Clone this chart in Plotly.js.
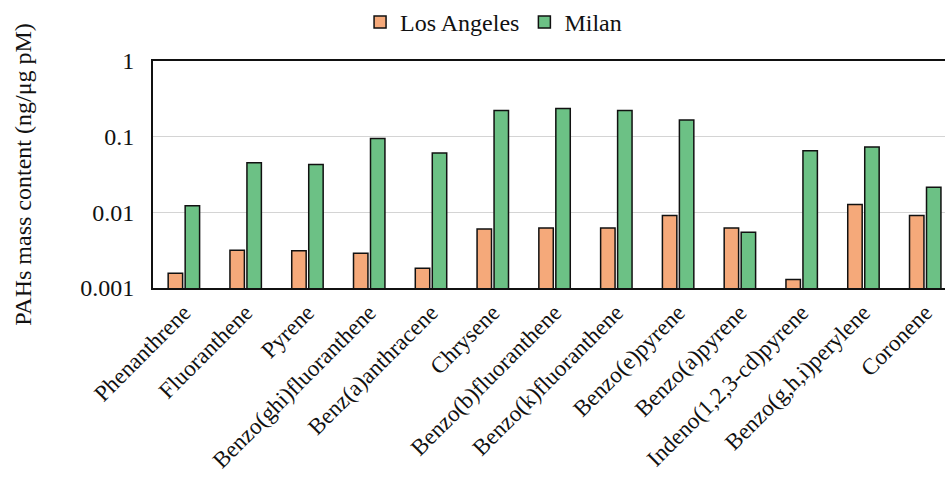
<!DOCTYPE html>
<html>
<head>
<meta charset="utf-8">
<script src="https://cdn.plot.ly/plotly-3.0.1.min.js"></script>
<style>
html,body{margin:0;padding:0;overflow:hidden;background:#fff}
</style>
</head>
<body>
<div id="chart" style="width:945px;height:479px"></div>
<script>
var categories = ["Phenanthrene","Fluoranthene","Pyrene","Benzo(ghi)fluoranthene","Benz(a)anthracene","Chrysene","Benzo(b)fluoranthene","Benzo(k)fluoranthene","Benzo(e)pyrene","Benzo(a)pyrene","Indeno(1,2,3-cd)pyrene","Benzo(g,h,i)perylene","Coronene"];
var losAngeles = [0.00157,0.00315,0.0031,0.00288,0.00183,0.0060,0.0062,0.0062,0.0091,0.0062,0.0013,0.0127,0.0091];
var milan = [0.0122,0.0452,0.0430,0.0945,0.061,0.222,0.236,0.222,0.166,0.00547,0.065,0.073,0.0215];
var yTickVals = [0.001,0.01,0.1,1];
var yTickText = ["0.001","0.01","0.1","1"];

var font = "Liberation Serif";
var traces = [
  {type:"bar", name:"Los Angeles", x:categories, y:losAngeles,
   marker:{color:"#F5A97A", line:{color:"#111", width:1.5}}},
  {type:"bar", name:"Milan", x:categories, y:milan,
   marker:{color:"#6CC185", line:{color:"#111", width:1.5}}}
];
var layout = {
  width:945, height:479,
  margin:{l:153, r:0, t:59, b:191},
  paper_bgcolor:"#fff", plot_bgcolor:"#fff",
  font:{family:font, color:"#111", size:23},
  barmode:"group", bargap:0.45, bargroupgap:0.15,
  showlegend:true,
  legend:{orientation:"h", x:0.43, xanchor:"center", y:1.17, yanchor:"middle",
          font:{family:"serif", size:24, color:"#111", weight:"normal", style:"normal"},
          itemwidth:30, tracegroupgap:0},
  xaxis:{type:"category", range:[-0.5,12.32], tickangle:-45,
         tickfont:{family:font, size:23, color:"#111"},
         showline:true, linecolor:"#111", linewidth:2, mirror:true,
         ticks:"", showgrid:false, ticklabelstandoff:0, automargin:false},
  yaxis:{type:"log", range:[-3,0], tickvals:yTickVals, ticktext:yTickText,
         tickfont:{family:font, size:24, color:"#111"},
         showline:true, linecolor:"#111", linewidth:2, mirror:false,
         ticks:"", showgrid:true, gridcolor:"#d4d4d4", gridwidth:1.5,
         ticklabelstandoff:12, automargin:false, zeroline:false,
         title:{text:"PAHs mass content (ng/μg pM)", standoff:42,
                font:{family:font, size:24, color:"#111"}}}
};
Plotly.newPlot("chart", traces, layout, {displayModeBar:false, staticPlot:true});
</script>
</body>
</html>
